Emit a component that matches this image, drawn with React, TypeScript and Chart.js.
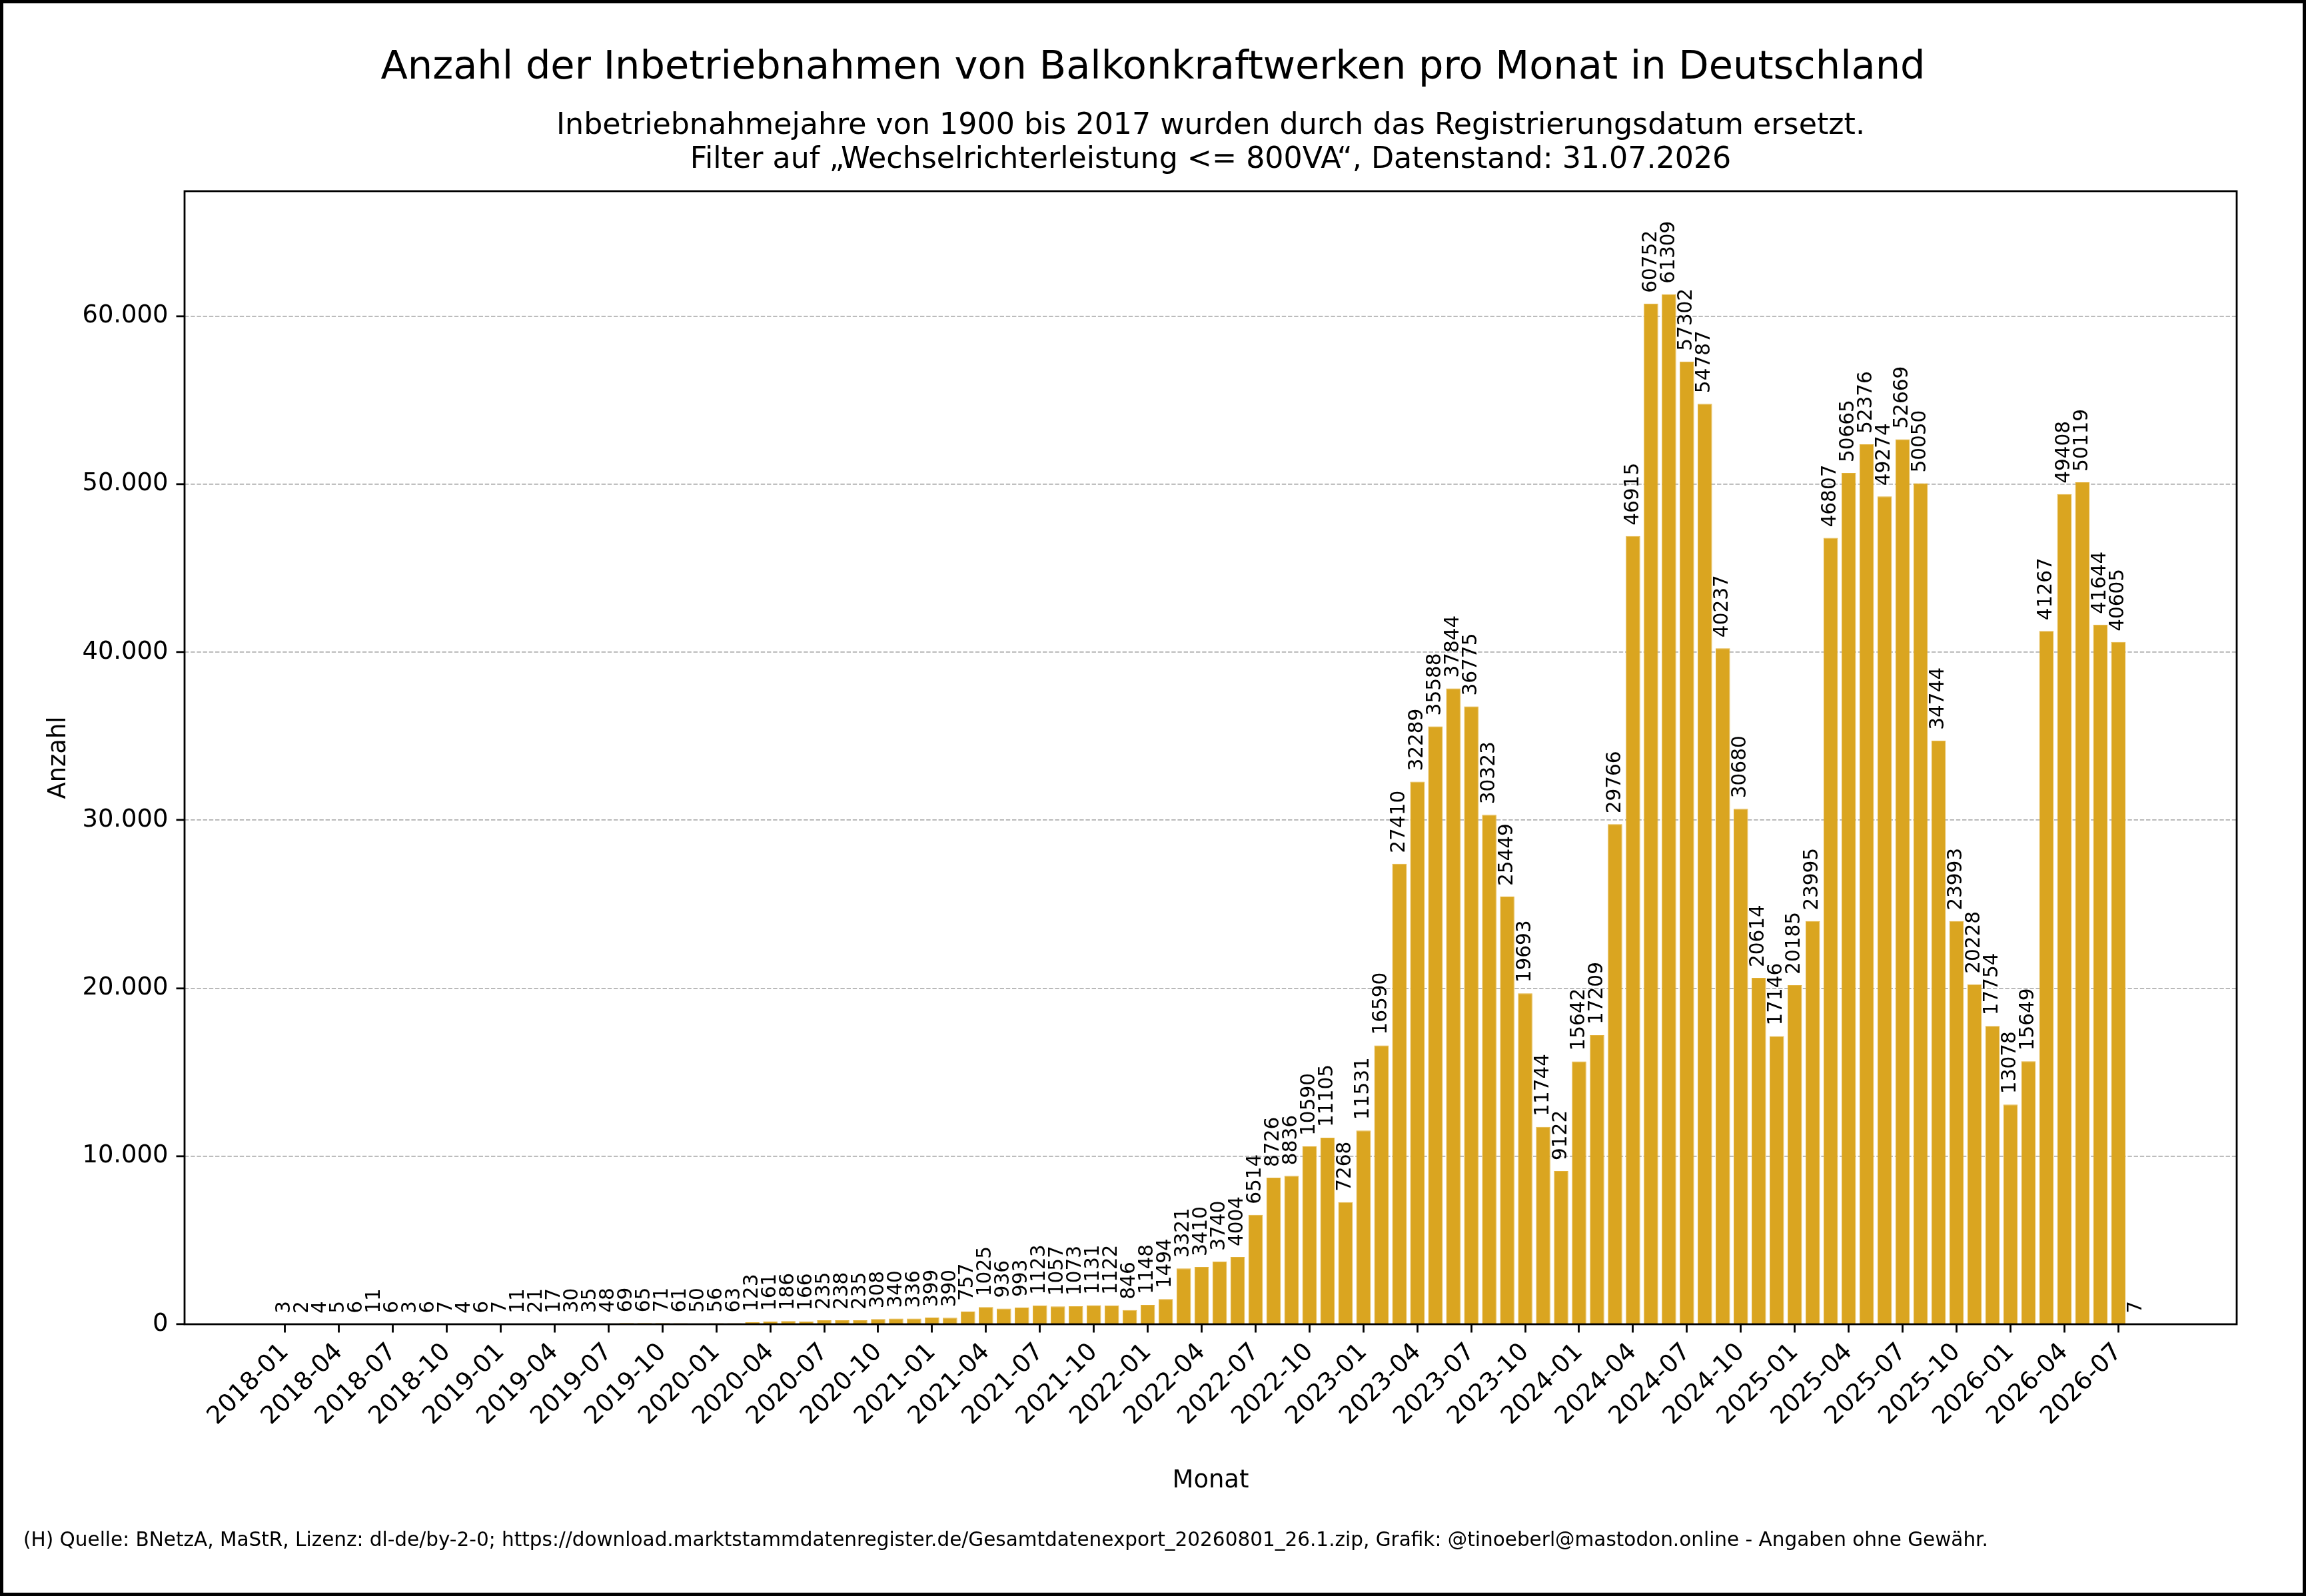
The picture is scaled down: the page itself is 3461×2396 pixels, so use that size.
import { useEffect, useRef } from "react";
import { Chart, registerables } from "chart.js";

Chart.register(...registerables);

const months: string[] = [
  "2018-01", "2018-02", "2018-03", "2018-04", "2018-05", "2018-06", "2018-07", "2018-08", "2018-09", "2018-10", "2018-11", "2018-12",
  "2019-01", "2019-02", "2019-03", "2019-04", "2019-05", "2019-06", "2019-07", "2019-08", "2019-09", "2019-10", "2019-11", "2019-12",
  "2020-01", "2020-02", "2020-03", "2020-04", "2020-05", "2020-06", "2020-07", "2020-08", "2020-09", "2020-10", "2020-11", "2020-12",
  "2021-01", "2021-02", "2021-03", "2021-04", "2021-05", "2021-06", "2021-07", "2021-08", "2021-09", "2021-10", "2021-11", "2021-12",
  "2022-01", "2022-02", "2022-03", "2022-04", "2022-05", "2022-06", "2022-07", "2022-08", "2022-09", "2022-10", "2022-11", "2022-12",
  "2023-01", "2023-02", "2023-03", "2023-04", "2023-05", "2023-06", "2023-07", "2023-08", "2023-09", "2023-10", "2023-11", "2023-12",
  "2024-01", "2024-02", "2024-03", "2024-04", "2024-05", "2024-06", "2024-07", "2024-08", "2024-09", "2024-10", "2024-11", "2024-12",
  "2025-01", "2025-02", "2025-03", "2025-04", "2025-05", "2025-06", "2025-07", "2025-08", "2025-09", "2025-10", "2025-11", "2025-12",
  "2026-01", "2026-02", "2026-03", "2026-04", "2026-05", "2026-06", "2026-07", "2026-08",
];

const counts: number[] = [
  3, 2, 4, 5, 6, 11, 6, 3, 6, 7, 4, 6,
  7, 11, 21, 17, 30, 35, 48, 69, 65, 71, 61, 50,
  56, 63, 123, 161, 186, 166, 235, 238, 235, 308, 340, 336,
  399, 390, 757, 1025, 936, 993, 1123, 1057, 1073, 1131, 1122, 846,
  1148, 1494, 3321, 3410, 3740, 4004, 6514, 8726, 8836, 10590, 11105, 7268,
  11531, 16590, 27410, 32289, 35588, 37844, 36775, 30323, 25449, 19693, 11744, 9122,
  15642, 17209, 29766, 46915, 60752, 61309, 57302, 54787, 40237, 30680, 20614, 17146,
  20185, 23995, 46807, 50665, 52376, 49274, 52669, 50050, 34744, 23993, 20228, 17754,
  13078, 15649, 41267, 49408, 50119, 41644, 40605, 7,
];

// x tick positions (every third month, index into months)
const xTickIndex: number[] = [
  0, 3, 6, 9, 12, 15, 18, 21, 24, 27, 30, 33, 36, 39, 42, 45, 48, 51,
  54, 57, 60, 63, 66, 69, 72, 75, 78, 81, 84, 87, 90, 93, 96, 99, 102,
];
const yTickValues: number[] = [0, 10000, 20000, 30000, 40000, 50000, 60000];

const TITLE = "Anzahl der Inbetriebnahmen von Balkonkraftwerken pro Monat in Deutschland";
const SUBTITLE: string[] = [
  "Inbetriebnahmejahre von 1900 bis 2017 wurden durch das Registrierungsdatum ersetzt.",
  "Filter auf \u201EWechselrichterleistung <= 800VA\u201C, Datenstand: 31.07.2026",
];
const FOOTNOTE =
  "(H) Quelle: BNetzA, MaStR, Lizenz: dl-de/by-2-0; https://download.marktstammdatenregister.de/Gesamtdatenexport_20260801_26.1.zip, Grafik: @tinoeberl@mastodon.online - Angaben ohne Gew\u00E4hr.";

const W = 3461;
const H = 2396;
const FONT = "'DejaVu Sans', 'Noto Sans', sans-serif";
const TICK_FS = 36.9;
const LABEL_FS = 29.5;

function fmtDE(v: number): string {
  return String(Math.round(v)).replace(/\B(?=(\d{3})+(?!\d))/g, ".");
}

export default function App() {
  const ref = useRef<HTMLCanvasElement>(null);

  useEffect(() => {
    const canvas = ref.current;
    if (!canvas) return;

    const bgPlugin = {
      id: "bg",
      beforeDraw(chart: any) {
        const ctx = chart.ctx;
        ctx.save();
        ctx.fillStyle = "#ffffff";
        ctx.fillRect(0, 0, W, H);
        ctx.restore();
      },
    };

    const labelsPlugin = {
      id: "barLabels",
      afterDatasetsDraw(chart: any) {
        const ctx = chart.ctx;
        const meta = chart.getDatasetMeta(0);
        ctx.save();
        ctx.font = `${LABEL_FS}px ${FONT}`;
        ctx.fillStyle = "#000";
        ctx.textAlign = "left";
        ctx.textBaseline = "middle";
        meta.data.forEach((el: any, i: number) => {
          const p = el.getProps(["x", "y"], true);
          ctx.save();
          ctx.translate(p.x, p.y - 16);
          ctx.rotate(-Math.PI / 2);
          ctx.fillText(String(counts[i]), 0, 0);
          ctx.restore();
        });
        ctx.restore();
      },
    };

    const framePlugin = {
      id: "frame",
      afterDraw(chart: any) {
        const ctx = chart.ctx;
        const a = chart.chartArea;
        ctx.save();
        // axes spines
        ctx.strokeStyle = "#000";
        ctx.lineWidth = 2.8;
        ctx.strokeRect(a.left, a.top, a.right - a.left, a.bottom - a.top);

        // suptitle
        ctx.fillStyle = "#000";
        ctx.textAlign = "center";
        ctx.textBaseline = "alphabetic";
        ctx.font = `59px ${FONT}`;
        ctx.fillText(TITLE, W / 2, 118);

        // axes title
        ctx.font = `44.3px ${FONT}`;
        const cx = (a.left + a.right) / 2;
        ctx.fillText(SUBTITLE[0], cx, 201);
        ctx.fillText(SUBTITLE[1], cx, 252);

        // footnote
        ctx.textAlign = "left";
        ctx.font = `${LABEL_FS}px ${FONT}`;
        ctx.fillText(FOOTNOTE, 35, 2321);

        // figure border
        ctx.lineWidth = 5;
        ctx.strokeRect(2.5, 2.5, W - 5, H - 5);
        ctx.restore();
      },
    };

    const chart = new Chart(canvas, {
      type: "bar",
      data: {
        datasets: [
          {
            data: counts.map((v, i) => ({ x: i, y: v })),
            backgroundColor: "#DAA520",
            borderColor: "#E3B139",
            borderWidth: 1,
            categoryPercentage: 1,
            barPercentage: 0.8,
          } as any,
        ],
      },
      options: {
        responsive: false,
        animation: false,
        devicePixelRatio: 1,
        layout: { padding: { left: 0, top: 287, right: 104, bottom: 148 } },
        plugins: {
          legend: { display: false },
          tooltip: { enabled: false },
          title: { display: false },
        },
        scales: {
          x: {
            type: "linear",
            min: -5.59,
            max: 108.59,
            offset: false,
            afterBuildTicks: (s: any) => {
              s.ticks = xTickIndex.map((v) => ({ value: v }));
            },
            afterFit: (s: any) => {
              s.height = 260;
            },
            ticks: {
              autoSkip: false,
              maxRotation: 45,
              minRotation: 45,
              padding: 8,
              color: "#000",
              font: { family: FONT, size: TICK_FS },
              callback: (v: any) => months[Math.round(Number(v))] ?? "",
            },
            grid: {
              display: true,
              offset: false,
              drawOnChartArea: false,
              drawTicks: true,
              tickLength: 12.5,
              tickWidth: 2.8,
              tickColor: "#000",
            },
            border: { display: false },
            title: {
              display: true,
              text: "Monat",
              color: "#000",
              font: { family: FONT, size: TICK_FS },
              padding: { top: 0, bottom: 2 },
            },
          },
          y: {
            type: "linear",
            min: 0,
            max: 67440,
            afterBuildTicks: (s: any) => {
              s.ticks = yTickValues.map((v) => ({ value: v }));
            },
            afterFit: (s: any) => {
              s.width = 277;
            },
            ticks: {
              padding: 12,
              color: "#000",
              font: { family: FONT, size: TICK_FS },
              callback: (v: any) => fmtDE(Number(v)),
            },
            grid: {
              color: "#b0b0b0",
              lineWidth: 1.7,
              offset: false,
              tickLength: 12.5,
              tickWidth: 2.8,
              tickColor: "#000",
            },
            border: { display: false, dash: [6.4, 2.8] },
            title: {
              display: true,
              text: "Anzahl",
              color: "#000",
              font: { family: FONT, size: TICK_FS },
              padding: { top: 66, bottom: 0 },
            },
          },
        },
      } as any,
      plugins: [bgPlugin, labelsPlugin, framePlugin],
    });

    return () => {
      chart.destroy();
    };
  }, []);

  return (
    <div style={{ position: "fixed", left: 0, top: 0, width: W, height: H, background: "#fff" }}>
      <canvas ref={ref} width={W} height={H} style={{ display: "block", width: W, height: H }} />
    </div>
  );
}
